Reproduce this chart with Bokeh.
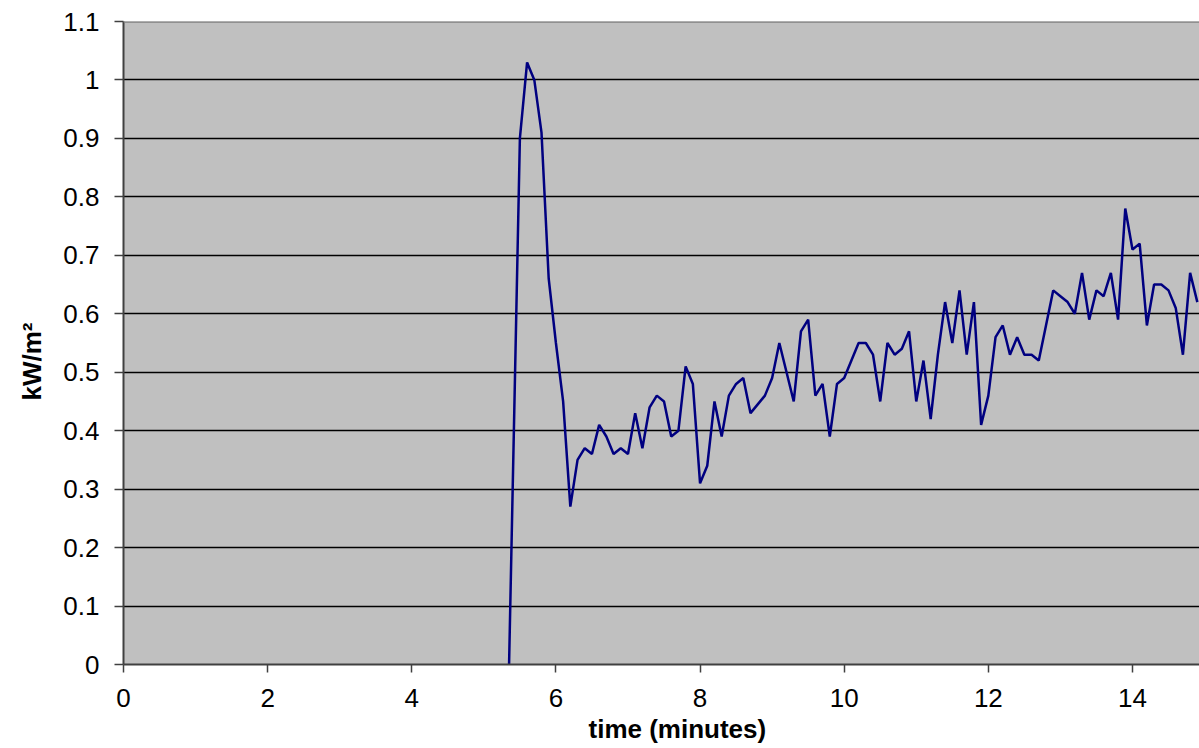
from bokeh.plotting import figure
from bokeh.models import Range1d, FixedTicker, Span, Title
from bokeh.embed import file_html
from bokeh.resources import INLINE

# ---- data ----
time_min = [5.35, 5.5, 5.6, 5.7, 5.8, 5.9, 6.0, 6.1, 6.2, 6.3, 6.4, 6.5, 6.6, 6.7, 6.8, 6.9,
            7.0, 7.1, 7.2, 7.3, 7.4, 7.5, 7.6, 7.7, 7.8, 7.9, 8.0, 8.1, 8.2, 8.3, 8.4, 8.5,
            8.6, 8.7, 8.8, 8.9, 9.0, 9.1, 9.2, 9.3, 9.4, 9.5, 9.6, 9.7, 9.8, 9.9, 10.0, 10.1,
            10.2, 10.3, 10.4, 10.5, 10.6, 10.7, 10.8, 10.9, 11.0, 11.1, 11.2, 11.3, 11.4, 11.5,
            11.6, 11.7, 11.8, 11.9, 12.0, 12.1, 12.2, 12.3, 12.4, 12.5, 12.6, 12.7, 12.8, 12.9,
            13.0, 13.1, 13.2, 13.3, 13.4, 13.5, 13.6, 13.7, 13.8, 13.9, 14.0, 14.1, 14.2, 14.3,
            14.4, 14.5, 14.6, 14.7, 14.8, 14.9]
flux_kw_m2 = [0.0, 0.90, 1.03, 1.00, 0.91, 0.66, 0.55, 0.45, 0.27, 0.35, 0.37, 0.36, 0.41, 0.39, 0.36, 0.37,
              0.36, 0.43, 0.37, 0.44, 0.46, 0.45, 0.39, 0.40, 0.51, 0.48, 0.31, 0.34, 0.45, 0.39, 0.46, 0.48,
              0.49, 0.43, 0.445, 0.46, 0.49, 0.55, 0.50, 0.45, 0.57, 0.59, 0.46, 0.48, 0.39, 0.48, 0.49, 0.52,
              0.55, 0.55, 0.53, 0.45, 0.55, 0.53, 0.54, 0.57, 0.45, 0.52, 0.42, 0.53, 0.62, 0.55,
              0.64, 0.53, 0.62, 0.41, 0.46, 0.56, 0.58, 0.53, 0.56, 0.53, 0.53, 0.52, 0.58, 0.64,
              0.63, 0.62, 0.60, 0.67, 0.59, 0.64, 0.63, 0.67, 0.59, 0.78, 0.71, 0.72, 0.58, 0.65,
              0.65, 0.64, 0.61, 0.53, 0.67, 0.62]

x_ticks = [0, 2, 4, 6, 8, 10, 12, 14]
y_ticks = [0, 0.1, 0.2, 0.3, 0.4, 0.5, 0.6, 0.7, 0.8, 0.9, 1, 1.1]
y_tick_labels = ["0", "0.1", "0.2", "0.3", "0.4", "0.5", "0.6", "0.7", "0.8", "0.9", "1", "1.1"]
x_title = "time (minutes)"
y_title = "kW/m\u00b2"

FONT = "'Liberation Sans', Arial, sans-serif"

p = figure(width=1199, height=748, output_backend="svg", toolbar_location=None,
           x_range=Range1d(0, 14.93), y_range=Range1d(0, 1.1),
           min_border_left=123, min_border_right=0, min_border_top=21, min_border_bottom=84)

p.background_fill_color = "#C0C0C0"
p.border_fill_color = "white"
p.outline_line_color = None

# grid
p.xgrid.grid_line_color = None
p.ygrid.ticker = FixedTicker(ticks=y_ticks)
p.ygrid.grid_line_color = "#000000"
p.ygrid.grid_line_width = 1.3

# top border of plot area
p.add_layout(Span(location=1.1, dimension="width", line_color="#808080", line_width=2.5))

# axes
for ax in (p.xaxis[0], p.yaxis[0]):
    ax.axis_line_color = "#404040"
    ax.axis_line_width = 2
    ax.major_tick_line_color = "#404040"
    ax.major_tick_line_width = 1.5
    ax.major_tick_in = 0
    ax.minor_tick_line_color = None
    ax.major_label_text_font = FONT
    ax.major_label_text_font_size = "26px"
    ax.major_label_text_color = "#000000"

p.xaxis.ticker = FixedTicker(ticks=x_ticks)
p.xaxis.major_tick_out = 8
p.xaxis.major_label_standoff = 16

p.yaxis.ticker = FixedTicker(ticks=y_ticks)
p.yaxis.major_label_overrides = {t: l for t, l in zip(y_ticks, y_tick_labels)}
p.yaxis.major_tick_out = 9
p.yaxis.major_label_standoff = 15

# data line
p.line(time_min, flux_kw_m2, line_color="#000080", line_width=2.5)

# axis titles
p.add_layout(Title(text=x_title, align="left", offset=465, standoff=5,
                   text_font=FONT, text_font_size="26px", text_font_style="bold",
                   text_color="#000000"), "below")
p.add_layout(Title(text=y_title, align="left", offset=264, standoff=28,
                   text_font=FONT, text_font_size="26px", text_font_style="bold",
                   text_color="#000000"), "left")

open("out.html", "w").write(file_html(p, INLINE))
